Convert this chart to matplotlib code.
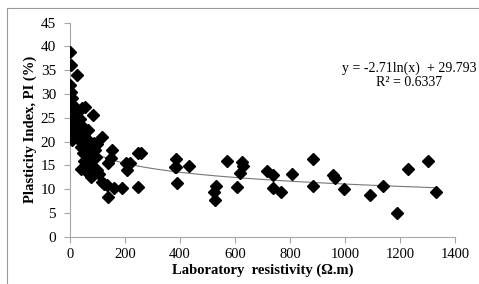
import numpy as np
import matplotlib
matplotlib.use("Agg")
import matplotlib.pyplot as plt
from matplotlib.lines import Line2D

# laboratory resistivity (ohm.m) and plasticity index (%)
resistivity = [0, 4, 24, 2, 3, 6, 2, 4, 5, 3, 6, 2, 5, 3, 4, 8, 6,
               15, 20, 25, 20, 30, 28, 15, 35, 40,
               45, 55, 50, 55, 60, 40, 48, 42, 52, 58, 62, 65,
               70, 75, 80, 85, 88, 90, 95, 78, 100, 98, 65, 70, 85, 105,
               115, 115, 125, 135, 140, 140, 150, 154, 160,
               188, 202, 206, 218, 246, 257, 246,
               385, 385, 434, 390, 382, 570, 624, 629, 618, 608, 531, 524, 527,
               715, 737, 739, 769, 806, 885, 882,
               955, 964, 996, 1091, 1137, 1230, 1303, 1331, 1190]
plasticity = [38.8, 36.2, 34.0, 31.9, 30.5, 29.2, 27.0, 26.4, 25.5, 24.8, 24.0, 23.3, 22.6, 21.9, 21.2, 20.4, 22.0,
              27.5, 25.8, 24.5, 23.0, 22.0, 20.6, 21.5, 24.8, 23.5,
              27.0, 27.3, 21.5, 19.5, 20.8, 18.8, 17.5, 14.2, 16.0, 14.8, 18.0, 22.5,
              13.2, 12.5, 17.0, 25.6, 19.8, 18.2, 16.8, 15.2, 14.0, 19.5, 16.5, 19.0, 13.0, 13.2,
              21.0, 11.6, 11.0, 10.8, 15.4, 8.3, 16.5, 18.2, 10.2,
              10.2, 15.4, 14.0, 15.6, 17.7, 17.7, 10.4,
              16.3, 14.6, 14.9, 11.4, 14.7, 16.0, 15.8, 14.9, 13.3, 10.5, 10.7, 9.3, 7.7,
              13.9, 13.0, 10.3, 9.3, 13.2, 16.3, 10.7,
              13.0, 12.3, 10.0, 8.8, 10.7, 14.2, 16.0, 9.3, 4.9]

# log trend line shown on the chart
slope = -2.71
intercept = 29.793
r2 = 0.6337

plt.rcParams['font.family'] = ['Liberation Serif', 'DejaVu Serif']

fig = plt.figure(figsize=(4.79, 2.84), dpi=100)
ax = fig.add_axes([0.146, 0.1665, 0.804, 0.7535])

ax.plot(resistivity, plasticity, linestyle='none', marker='D', ms=6.6,
        color='black', zorder=3)

xs = np.linspace(12, max(resistivity), 300)
ax.plot(xs, slope*np.log(xs) + intercept, color='#777777', lw=0.8, zorder=2)

ax.set_xlim(0, 1400)
ax.set_ylim(0, 45)
ax.set_xticks(range(0, 1401, 200))
ax.set_yticks(range(0, 46, 5))

for s in ['top', 'right']:
    ax.spines[s].set_visible(False)
for s in ['left', 'bottom']:
    ax.spines[s].set_color('#a6a6a6')
    ax.spines[s].set_linewidth(0.8)
ax.tick_params(colors='#a6a6a6', labelcolor='black', labelsize=10.5,
               length=4, width=0.8, direction='out')
ax.tick_params(axis='y', pad=6, labelsize=11)
ax.tick_params(axis='x', pad=4)

ax.set_xlabel('Laboratory  resistivity (\u03a9.m)', fontsize=10.5,
              fontweight='bold', labelpad=2)
ax.set_ylabel('Plasticity Index, PI (%)', fontsize=10.5,
              fontweight='bold', labelpad=3)

ax.text(1233, 34.0, 'y = -2.71ln(x)  + 29.793\nR\u00b2 = 0.6337', fontsize=10,
        ha='center', va='center', linespacing=1.1)

# chart border (left and top visible)
fig.add_artist(Line2D([7/479, 7/479], [0, 1 - 8/284], transform=fig.transFigure,
                      color='#9a9a9a', lw=0.8))
fig.add_artist(Line2D([7/479, 1], [1 - 8/284, 1 - 8/284], transform=fig.transFigure,
                      color='#9a9a9a', lw=0.8))

fig.savefig('out.png', dpi=100)
